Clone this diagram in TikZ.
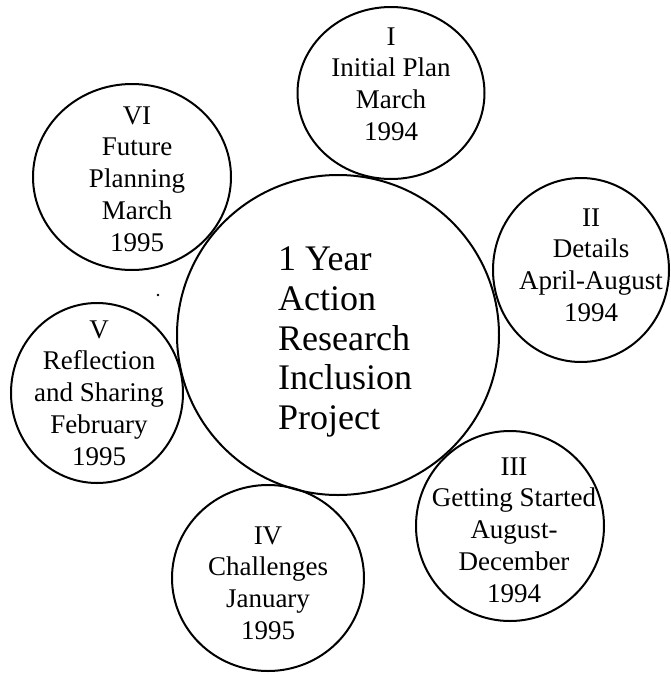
\documentclass[tikz,border=0pt]{standalone}
\usepackage{fontspec}
\setmainfont{Liberation Serif}
\usetikzlibrary{shapes.geometric}
\tikzset{
  bubble/.style={draw, line width=2pt, ellipse, inner sep=0pt, outer sep=0pt},
  bubbletext/.style={align=center, inner sep=0pt, font=\fontsize{27}{31.8}\selectfont},
  centertext/.style={align=left, inner sep=0pt, font=\fontsize{36}{39.6}\selectfont},
}
\begin{document}
\begin{tikzpicture}[x=1pt, y=-1pt]
\useasboundingbox (0,0) rectangle (670,675);
% bubbles
\node[bubble, minimum width=322pt, minimum height=320pt] (c) at (338,335) {};
\node[bubble, minimum width=187pt, minimum height=172pt] (b1) at (391,93) {};
\node[bubble, minimum width=176pt, minimum height=184pt] (b2) at (581,270) {};
\node[bubble, minimum width=188pt, minimum height=190pt] (b3) at (510,526) {};
\node[bubble, minimum width=192pt, minimum height=186pt] (b4) at (268,578) {};
\node[bubble, minimum width=172pt, minimum height=180pt] (b5) at (97,393) {};
\node[bubble, minimum width=198pt, minimum height=186pt] (b6) at (132,177) {};
% texts
\node[centertext, anchor=west] (tc) at (278,342) {1 Year\\Action\\Research\\Inclusion\\Project};
\node[bubbletext] (t1) at (391,84) {I\\Initial Plan\\March\\1994};
\node[bubbletext] (t2) at (591,265) {II\\Details\\April-August\\1994};
\node[bubbletext] (t3) at (514,530) {III\\Getting Started\\August-\\December\\1994};
\node[bubbletext] (t4) at (268,583) {IV\\Challenges\\January\\1995};
\node[bubbletext] (t5) at (99,393) {V\\Reflection\\and Sharing\\February\\1995};
\node[bubbletext] (t6) at (137,179) {VI\\Future\\Planning\\March\\1995};
% stray dot
\node[circle, fill=black, inner sep=0pt, minimum size=2.6pt] (dot) at (158,295) {};
\end{tikzpicture}
\end{document}
